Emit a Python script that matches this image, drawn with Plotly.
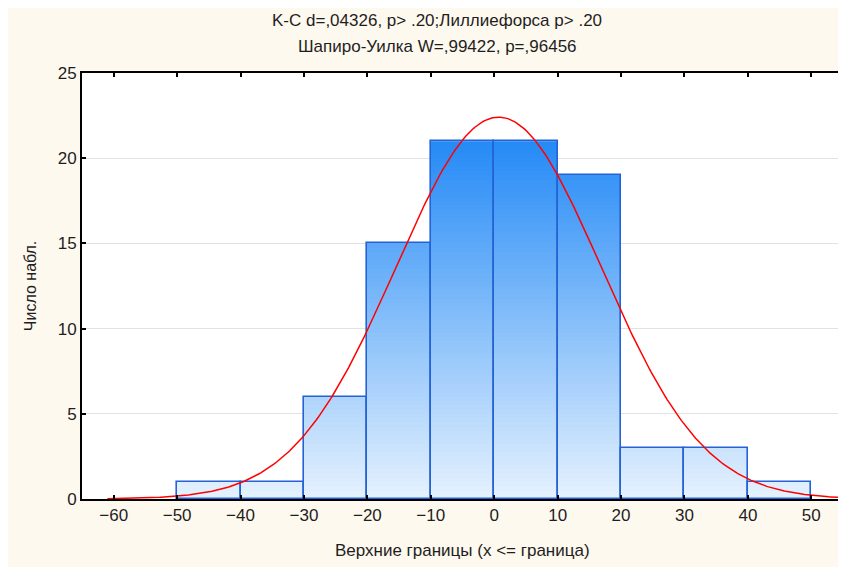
import numpy as np
import plotly.graph_objects as go

# ---- data ----
bin_centers = [-45, -35, -25, -15, -5, 5, 15, 25, 35, 45]
counts = [1, 1, 6, 15, 21, 21, 19, 3, 3, 1]
bin_width = 10
x_ticks = [-60, -50, -40, -30, -20, -10, 0, 10, 20, 30, 40, 50]
y_ticks = [0, 5, 10, 15, 20, 25]
# fitted normal curve parameters
fit_mean = 0.7
fit_sd = 16.2
n_obs = sum(counts)

title1 = "K-C d=,04326, p> .20;Лиллиефорса p> .20"
title2 = "Шапиро-Уилка W=,99422, p=,96456"
x_title = "Верхние границы (x <= граница)"
y_title = "Число набл."

FONT = "Liberation Sans, Arial, sans-serif"
BG = "#FEF9EF"
TXT = "#1E1E1E"

# page offset of the figure div (default body margin)
OFF = 8
W, H = 846 - OFF, 567 - OFF
PL, PR, PT, PB = 82, 845, 73, 499  # plot box in page pixels
ml, mr, mt = PL - OFF, OFF + W - PR, PT - OFF
mb = OFF + H - PB
ph = PB - PT
pw = PR - PL

# gradient fill of bars: heatmap cells (value = height), masked above each bar
step = 0.25
y_cells = np.arange(0, max(counts), step) + step / 2
z = []
for yc in y_cells:
    z.append([float(yc) if yc < c else None for c in counts])

fig = go.Figure()
fig.add_trace(go.Heatmap(
    x=bin_centers, y=y_cells, z=z,
    zmin=0, zmax=max(counts),
    colorscale=[[0, "rgb(230,242,254)"], [1, "rgb(36,138,246)"]],
    showscale=False, hoverinfo="skip", zsmooth=False,
))
fig.add_trace(go.Bar(
    x=bin_centers, y=counts, width=bin_width,
    marker=dict(color="rgba(0,0,0,0)", line=dict(color="#2462D6", width=1.6)),
    hoverinfo="x+y",
))

xs = np.arange(-61, 55.01, 0.25)
ys = n_obs * bin_width / (fit_sd * np.sqrt(2 * np.pi)) * np.exp(-0.5 * ((xs - fit_mean) / fit_sd) ** 2)
fig.add_trace(go.Scatter(x=xs, y=ys, mode="lines",
                         line=dict(color="#FF0000", width=1.5), hoverinfo="skip"))

axis_common = dict(
    showline=True, linecolor="#000000", linewidth=2, mirror="ticks",
    ticks="inside", ticklen=4, tickwidth=2, tickcolor="#000000",
    zeroline=False,
    tickfont=dict(family=FONT, size=17, color=TXT),
)
fig.update_layout(
    width=W, height=H,
    paper_bgcolor=BG, plot_bgcolor="#FFFFFF",
    margin=dict(l=ml, r=mr, t=mt, b=mb),
    showlegend=False,
    font=dict(family=FONT, color=TXT),
    bargap=0,
    xaxis=dict(range=[-65, 55], tickvals=x_ticks, showgrid=False, **axis_common),
    yaxis=dict(range=[0, 25], tickvals=y_ticks, showgrid=True,
               gridcolor="#E2E2E2", gridwidth=1, **axis_common),
    annotations=[
        dict(text=title1, xref="paper", yref="paper", x=(438 - PL) / pw, y=(PB - 20) / ph,
             xanchor="center", yanchor="middle", showarrow=False,
             font=dict(family=FONT, size=17, color=TXT)),
        dict(text=title2, xref="paper", yref="paper", x=(438 - PL) / pw, y=(PB - 46) / ph,
             xanchor="center", yanchor="middle", showarrow=False,
             font=dict(family=FONT, size=17, color=TXT)),
        dict(text=x_title, xref="paper", yref="paper", x=0.5, y=(PB - 550) / ph,
             xanchor="center", yanchor="middle", showarrow=False,
             font=dict(family=FONT, size=17, color=TXT)),
        dict(text=y_title, xref="paper", yref="paper", x=(30 - PL) / pw, y=0.5,
             xanchor="center", yanchor="middle", showarrow=False, textangle=-90,
             font=dict(family=FONT, size=16, color=TXT)),
    ],
)

fig.write_html(
    "out.html",
    post_script="document.documentElement.style.overflow='hidden';document.body.style.overflow='hidden';",
)
